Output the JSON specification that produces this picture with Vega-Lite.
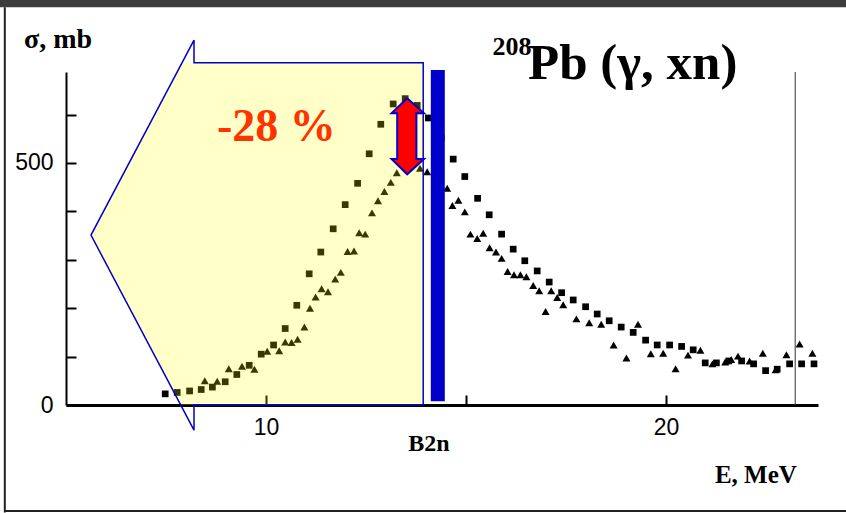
{
  "$schema": "https://vega.github.io/schema/vega-lite/v6.json",
  "width": 752,
  "height": 333,
  "padding": {"left": 66, "top": 72, "right": 28, "bottom": 108},
  "autosize": {"type": "none"},
  "background": "white",
  "config": {
    "view": {"stroke": null},
    "axis": {"grid": false, "domainColor": "#000000", "tickColor": "#000000", "labelColor": "#000000", "labelFont": "Liberation Sans", "labelFontSize": 23}
  },
  "datasets": {
    "pts": [
      {"s": "sq", "E": 7.48, "mb": 23}, {"s": "sq", "E": 7.78, "mb": 26}, {"s": "sq", "E": 8.09, "mb": 29}, {"s": "sq", "E": 8.38, "mb": 32},
      {"s": "sq", "E": 8.66, "mb": 37}, {"s": "sq", "E": 8.98, "mb": 48}, {"s": "sq", "E": 9.27, "mb": 63}, {"s": "sq", "E": 9.58, "mb": 82},
      {"s": "sq", "E": 9.88, "mb": 105}, {"s": "sq", "E": 10.19, "mb": 124}, {"s": "sq", "E": 10.48, "mb": 158}, {"s": "sq", "E": 10.77, "mb": 206},
      {"s": "sq", "E": 11.08, "mb": 271}, {"s": "sq", "E": 11.37, "mb": 316}, {"s": "sq", "E": 11.68, "mb": 364}, {"s": "sq", "E": 11.98, "mb": 414},
      {"s": "sq", "E": 12.29, "mb": 458}, {"s": "sq", "E": 12.58, "mb": 519}, {"s": "sq", "E": 12.87, "mb": 580}, {"s": "sq", "E": 13.18, "mb": 622},
      {"s": "sq", "E": 13.48, "mb": 633}, {"s": "sq", "E": 13.78, "mb": 619}, {"s": "sq", "E": 14.06, "mb": 593}, {"s": "sq", "E": 14.38, "mb": 552},
      {"s": "sq", "E": 14.68, "mb": 508}, {"s": "sq", "E": 14.97, "mb": 472}, {"s": "sq", "E": 15.29, "mb": 427}, {"s": "sq", "E": 15.58, "mb": 393},
      {"s": "sq", "E": 15.89, "mb": 353}, {"s": "sq", "E": 16.18, "mb": 322}, {"s": "sq", "E": 16.47, "mb": 298}, {"s": "sq", "E": 16.78, "mb": 277},
      {"s": "sq", "E": 17.08, "mb": 254}, {"s": "sq", "E": 17.39, "mb": 232}, {"s": "sq", "E": 17.68, "mb": 217}, {"s": "sq", "E": 17.99, "mb": 203},
      {"s": "sq", "E": 18.28, "mb": 188}, {"s": "sq", "E": 18.58, "mb": 174}, {"s": "sq", "E": 18.88, "mb": 161}, {"s": "sq", "E": 19.18, "mb": 150},
      {"s": "sq", "E": 19.49, "mb": 134}, {"s": "sq", "E": 19.78, "mb": 124}, {"s": "sq", "E": 20.09, "mb": 124}, {"s": "sq", "E": 20.39, "mb": 121},
      {"s": "sq", "E": 20.68, "mb": 114}, {"s": "sq", "E": 20.98, "mb": 87}, {"s": "sq", "E": 21.26, "mb": 87}, {"s": "sq", "E": 21.57, "mb": 91},
      {"s": "sq", "E": 21.89, "mb": 91}, {"s": "sq", "E": 22.19, "mb": 85}, {"s": "sq", "E": 22.49, "mb": 71}, {"s": "sq", "E": 22.78, "mb": 74},
      {"s": "sq", "E": 23.09, "mb": 85}, {"s": "sq", "E": 23.39, "mb": 85}, {"s": "sq", "E": 23.7, "mb": 85},
      {"s": "tri", "E": 8.47, "mb": 50}, {"s": "tri", "E": 8.78, "mb": 49}, {"s": "tri", "E": 9.07, "mb": 75}, {"s": "tri", "E": 9.4, "mb": 80},
      {"s": "tri", "E": 9.71, "mb": 74}, {"s": "tri", "E": 10.03, "mb": 111}, {"s": "tri", "E": 10.33, "mb": 112}, {"s": "tri", "E": 10.48, "mb": 130},
      {"s": "tri", "E": 10.64, "mb": 129}, {"s": "tri", "E": 10.79, "mb": 136}, {"s": "tri", "E": 10.96, "mb": 161}, {"s": "tri", "E": 11.1, "mb": 200},
      {"s": "tri", "E": 11.24, "mb": 223}, {"s": "tri", "E": 11.39, "mb": 240}, {"s": "tri", "E": 11.55, "mb": 234}, {"s": "tri", "E": 11.73, "mb": 260},
      {"s": "tri", "E": 11.87, "mb": 274}, {"s": "tri", "E": 12.04, "mb": 317}, {"s": "tri", "E": 12.2, "mb": 318}, {"s": "tri", "E": 12.33, "mb": 356},
      {"s": "tri", "E": 12.48, "mb": 353}, {"s": "tri", "E": 12.65, "mb": 397}, {"s": "tri", "E": 12.8, "mb": 422}, {"s": "tri", "E": 12.96, "mb": 441},
      {"s": "tri", "E": 13.12, "mb": 460}, {"s": "tri", "E": 13.27, "mb": 480}, {"s": "tri", "E": 13.55, "mb": 490}, {"s": "tri", "E": 13.85, "mb": 489},
      {"s": "tri", "E": 14.03, "mb": 482}, {"s": "tri", "E": 14.3, "mb": 470}, {"s": "tri", "E": 14.53, "mb": 448}, {"s": "tri", "E": 14.66, "mb": 412},
      {"s": "tri", "E": 14.81, "mb": 423}, {"s": "tri", "E": 14.97, "mb": 399}, {"s": "tri", "E": 15.11, "mb": 353}, {"s": "tri", "E": 15.28, "mb": 344},
      {"s": "tri", "E": 15.43, "mb": 355}, {"s": "tri", "E": 15.59, "mb": 325}, {"s": "tri", "E": 15.75, "mb": 316}, {"s": "tri", "E": 15.89, "mb": 303},
      {"s": "tri", "E": 16.04, "mb": 276}, {"s": "tri", "E": 16.2, "mb": 269}, {"s": "tri", "E": 16.36, "mb": 269}, {"s": "tri", "E": 16.51, "mb": 265},
      {"s": "tri", "E": 16.68, "mb": 247}, {"s": "tri", "E": 16.83, "mb": 236}, {"s": "tri", "E": 16.99, "mb": 193}, {"s": "tri", "E": 17.13, "mb": 236},
      {"s": "tri", "E": 17.28, "mb": 222}, {"s": "tri", "E": 17.43, "mb": 207}, {"s": "tri", "E": 17.76, "mb": 178}, {"s": "tri", "E": 18.08, "mb": 170},
      {"s": "tri", "E": 18.38, "mb": 167}, {"s": "tri", "E": 18.69, "mb": 124}, {"s": "tri", "E": 19.01, "mb": 97}, {"s": "tri", "E": 19.3, "mb": 167},
      {"s": "tri", "E": 19.62, "mb": 106}, {"s": "tri", "E": 19.93, "mb": 107}, {"s": "tri", "E": 20.24, "mb": 75}, {"s": "tri", "E": 20.55, "mb": 103},
      {"s": "tri", "E": 20.86, "mb": 113}, {"s": "tri", "E": 21.16, "mb": 85}, {"s": "tri", "E": 21.48, "mb": 89}, {"s": "tri", "E": 21.63, "mb": 94},
      {"s": "tri", "E": 21.8, "mb": 101}, {"s": "tri", "E": 22.09, "mb": 91}, {"s": "tri", "E": 22.42, "mb": 107}, {"s": "tri", "E": 22.74, "mb": 73},
      {"s": "tri", "E": 23.01, "mb": 104}, {"s": "tri", "E": 23.34, "mb": 126}, {"s": "tri", "E": 23.66, "mb": 107}
    ],
    "fillpoly": [
      {"o": 1, "E": 5.625, "mb": 351}, {"o": 2, "E": 7.9, "mb": 707}, {"o": 3, "E": 13.93, "mb": 707},
      {"o": 4, "E": 13.93, "mb": 0}, {"o": 5, "E": 7.87, "mb": 0}, {"o": 6, "E": 5.625, "mb": 351}
    ],
    "outline": [
      {"o": 1, "E": 8.2, "mb": 754}, {"o": 2, "E": 8.2, "mb": 707}, {"o": 3, "E": 13.93, "mb": 707},
      {"o": 4, "E": 13.93, "mb": 0}, {"o": 5, "E": 8.2, "mb": 0}, {"o": 6, "E": 8.2, "mb": -52},
      {"o": 7, "E": 5.625, "mb": 351}, {"o": 8, "E": 8.2, "mb": 754}
    ],
    "redarrow": [
      {"o": 1, "E": 13.53, "mb": 633.7}, {"o": 2, "E": 13.95, "mb": 602.7}, {"o": 3, "E": 13.76, "mb": 602.7},
      {"o": 4, "E": 13.76, "mb": 508.3}, {"o": 5, "E": 13.95, "mb": 508.3}, {"o": 6, "E": 13.53, "mb": 476.7},
      {"o": 7, "E": 13.14, "mb": 508.3}, {"o": 8, "E": 13.28, "mb": 508.3}, {"o": 9, "E": 13.28, "mb": 602.7},
      {"o": 10, "E": 13.14, "mb": 602.7}, {"o": 11, "E": 13.53, "mb": 633.7}
    ]
  },
  "layer": [
    {
      "data": {"name": "pts"},
      "mark": {"type": "point", "filled": true, "opacity": 1, "color": "#000000", "strokeWidth": 0},
      "encoding": {
        "x": {"field": "E", "type": "quantitative", "title": null, "scale": {"domain": [5, 23.8], "nice": false, "zero": false},
          "axis": {"title": null, "values": [10, 15, 20], "labelExpr": "datum.value == 10 || datum.value == 20 ? datum.label : ''", "tickSize": -10, "tickWidth": 2, "domainWidth": 3, "labelPadding": 21, "labelFont": "Liberation Sans", "labelFontSize": 23, "labelColor": "#000000"}},
        "y": {"field": "mb", "type": "quantitative", "title": null, "scale": {"domain": [0, 688], "nice": false, "zero": false},
          "axis": {"title": null, "values": [0, 100, 200, 300, 400, 500, 600], "labelExpr": "datum.value == 0 || datum.value == 500 ? datum.label : ''", "tickSize": -10, "tickWidth": 2, "domainWidth": 2, "labelPadding": 23, "labelFont": "Liberation Sans", "labelFontSize": 23, "labelColor": "#000000"}},
        "shape": {"field": "s", "type": "nominal", "scale": {"domain": ["sq", "tri"], "range": ["square", "triangle-up"]}, "legend": null},
        "size": {"field": "s", "type": "nominal", "scale": {"domain": ["sq", "tri"], "range": [45, 64]}, "legend": null}
      }
    },
    {
      "data": {"values": [{"E1": 3.0, "E2": 24.7, "m1": 822, "m2": 900}]},
      "mark": {"type": "rect", "color": "#3c3c3c"},
      "encoding": {
        "x": {"field": "E1", "type": "quantitative", "title": null},
        "x2": {"field": "E2"},
        "y": {"field": "m1", "type": "quantitative", "title": null},
        "y2": {"field": "m2"}
      }
    },
    {
      "data": {"values": [{"E1": 3.47, "E2": 3.47, "m1": -222, "m2": 822}, {"E1": 3.47, "E2": 24.7, "m1": -219, "m2": -219}]},
      "mark": {"type": "rule", "color": "#222222", "strokeWidth": 2},
      "encoding": {
        "x": {"field": "E1", "type": "quantitative", "title": null},
        "x2": {"field": "E2"},
        "y": {"field": "m1", "type": "quantitative", "title": null},
        "y2": {"field": "m2"}
      }
    },
    {
      "data": {"values": [{"E": 23.23, "m1": 0, "m2": 688}]},
      "mark": {"type": "rule", "color": "#333333", "strokeWidth": 1},
      "encoding": {
        "x": {"field": "E", "type": "quantitative", "title": null},
        "y": {"field": "m1", "type": "quantitative", "title": null},
        "y2": {"field": "m2"}
      }
    },
    {
      "data": {"name": "fillpoly"},
      "mark": {"type": "line", "fill": "#ffff00", "fillOpacity": 0.22, "strokeOpacity": 0, "strokeWidth": 0},
      "encoding": {
        "x": {"field": "E", "type": "quantitative", "title": null},
        "y": {"field": "mb", "type": "quantitative", "title": null},
        "order": {"field": "o", "type": "quantitative"}
      }
    },
    {
      "data": {"name": "outline"},
      "mark": {"type": "line", "color": "#0000cc", "strokeWidth": 1.5},
      "encoding": {
        "x": {"field": "E", "type": "quantitative", "title": null},
        "y": {"field": "mb", "type": "quantitative", "title": null},
        "order": {"field": "o", "type": "quantitative"}
      }
    },
    {
      "data": {"values": [{"E1": 14.12, "E2": 14.47, "m1": 8, "m2": 692}]},
      "mark": {"type": "rect", "color": "#0000cc"},
      "encoding": {
        "x": {"field": "E1", "type": "quantitative", "title": null},
        "x2": {"field": "E2"},
        "y": {"field": "m1", "type": "quantitative", "title": null},
        "y2": {"field": "m2"}
      }
    },
    {
      "data": {"name": "redarrow"},
      "mark": {"type": "line", "fill": "#ff0000", "fillOpacity": 1, "stroke": "#0000cc", "strokeWidth": 2},
      "encoding": {
        "x": {"field": "E", "type": "quantitative", "title": null},
        "y": {"field": "mb", "type": "quantitative", "title": null},
        "order": {"field": "o", "type": "quantitative"}
      }
    },
    {
      "data": {"values": [{"t": "-28 %", "E": 10.26, "mb": 545}]},
      "mark": {"type": "text", "font": "Liberation Serif", "fontWeight": "bold", "fontSize": 46, "color": "#ff3300", "align": "center", "baseline": "alphabetic"},
      "encoding": {
        "x": {"field": "E", "type": "quantitative", "title": null},
        "y": {"field": "mb", "type": "quantitative", "title": null},
        "text": {"field": "t"}
      }
    },
    {
      "data": {"values": [{"t": "Pb (γ, xn)", "E": 16.55, "mb": 673}]},
      "mark": {"type": "text", "font": "Liberation Serif", "fontWeight": "bold", "fontSize": 51, "color": "#000000", "align": "left", "baseline": "alphabetic"},
      "encoding": {
        "x": {"field": "E", "type": "quantitative", "title": null},
        "y": {"field": "mb", "type": "quantitative", "title": null},
        "text": {"field": "t"}
      }
    },
    {
      "data": {"values": [{"t": "208", "E": 15.66, "mb": 723}]},
      "mark": {"type": "text", "font": "Liberation Serif", "fontWeight": "bold", "fontSize": 26, "color": "#000000", "align": "left", "baseline": "alphabetic"},
      "encoding": {
        "x": {"field": "E", "type": "quantitative", "title": null},
        "y": {"field": "mb", "type": "quantitative", "title": null},
        "text": {"field": "t"}
      }
    },
    {
      "data": {"values": [{"t": "σ,  mb", "E": 3.95, "mb": 737}]},
      "mark": {"type": "text", "font": "Liberation Serif", "fontWeight": "bold", "fontSize": 28, "color": "#000000", "align": "left", "baseline": "alphabetic"},
      "encoding": {
        "x": {"field": "E", "type": "quantitative", "title": null},
        "y": {"field": "mb", "type": "quantitative", "title": null},
        "text": {"field": "t"}
      }
    },
    {
      "data": {"values": [{"t": "B2n", "E": 14.075, "mb": -95}]},
      "mark": {"type": "text", "font": "Liberation Serif", "fontWeight": "bold", "fontSize": 24, "color": "#000000", "align": "center", "baseline": "alphabetic"},
      "encoding": {
        "x": {"field": "E", "type": "quantitative", "title": null},
        "y": {"field": "mb", "type": "quantitative", "title": null},
        "text": {"field": "t"}
      }
    },
    {
      "data": {"values": [{"t": "E, MeV", "E": 23.27, "mb": -161}]},
      "mark": {"type": "text", "font": "Liberation Serif", "fontWeight": "bold", "fontSize": 25, "color": "#000000", "align": "right", "baseline": "alphabetic"},
      "encoding": {
        "x": {"field": "E", "type": "quantitative", "title": null},
        "y": {"field": "mb", "type": "quantitative", "title": null},
        "text": {"field": "t"}
      }
    }
  ]
}
